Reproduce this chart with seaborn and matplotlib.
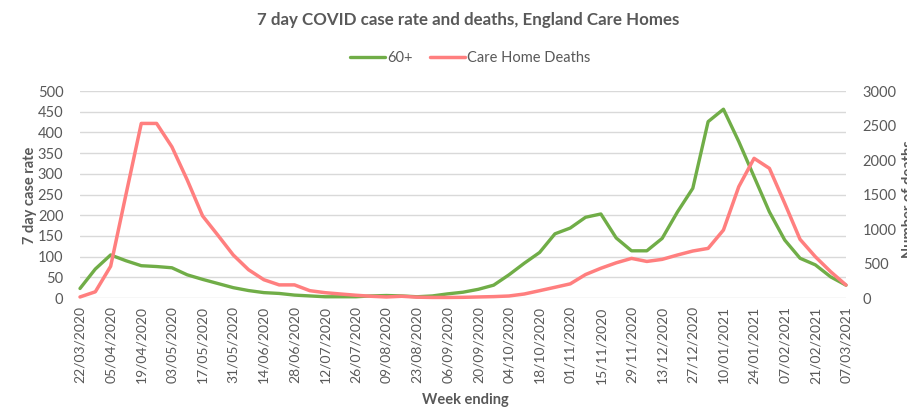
import matplotlib
matplotlib.use("Agg")
import matplotlib.pyplot as plt
import seaborn as sns
import pandas as pd
import numpy as np

# ---- data ----
week_index = list(range(51))
tick_labels = ["22/03/2020", "05/04/2020", "19/04/2020", "03/05/2020", "17/05/2020",
               "31/05/2020", "14/06/2020", "28/06/2020", "12/07/2020", "26/07/2020",
               "09/08/2020", "23/08/2020", "06/09/2020", "20/09/2020", "04/10/2020",
               "18/10/2020", "01/11/2020", "15/11/2020", "29/11/2020", "13/12/2020",
               "27/12/2020", "10/01/2021", "24/01/2021", "07/02/2021", "21/02/2021",
               "07/03/2021"]
case_rate_60 = [23, 70, 104, 90, 78, 76, 73, 56, 45, 35, 25, 18, 13, 11, 7, 5, 3, 3, 3, 5,
                6, 5, 3, 5, 10, 14, 21, 31, 56, 84, 110, 155, 169, 195, 203, 145, 114, 114,
                144, 208, 265, 426, 456, 378, 293, 208, 140, 96, 80, 51, 31]
care_home_deaths = [15, 90, 460, 1500, 2530, 2530, 2190, 1710, 1190, 910, 624, 410, 265,
                    190, 190, 106, 77, 58, 40, 25, 15, 25, 12, 8, 8, 10, 15, 20, 29, 58,
                    106, 155, 205, 340, 431, 510, 574, 530, 560, 623, 681, 719, 985, 1613,
                    2024, 1879, 1372, 850, 598, 381, 188]

GREEN = "#70AD47"
RED = "#FF7F7F"
GREY = "#595959"
GRID = "#D9D9D9"

sns.set_theme(style="white")
plt.rcParams["font.family"] = ["Lato", "DejaVu Sans"]

df_cases = pd.DataFrame({"week": week_index, "rate": case_rate_60})
df_deaths = pd.DataFrame({"week": week_index, "deaths": care_home_deaths})

fig = plt.figure(figsize=(9.07, 4.09), dpi=100)
ax = fig.add_axes([80 / 907, 1 - 298 / 409, (846 - 80) / 907, (298 - 91) / 409])
ax2 = ax.twinx()

sns.lineplot(data=df_cases, x="week", y="rate", ax=ax, color=GREEN, linewidth=2.4,
             label="60+", legend=False, clip_on=False, solid_capstyle="round",
             solid_joinstyle="round", zorder=3)
sns.lineplot(data=df_deaths, x="week", y="deaths", ax=ax2, color=RED, linewidth=2.5,
             label="Care Home Deaths", legend=False, clip_on=False, solid_capstyle="round",
             solid_joinstyle="round", zorder=3)

ax.set_xlim(0, 50)
ax.set_ylim(0, 500)
ax2.set_ylim(0, 3000)
ax.set_yticks(np.arange(0, 501, 50))
ax2.set_yticks(np.arange(0, 3001, 500))
ax.set_xticks(week_index[::2])
ax.set_xticklabels(tick_labels, rotation=90)

ax.grid(axis="y", color=GRID, linewidth=1.0)
ax.grid(axis="x", visible=False)
ax2.grid(False)
ax.set_axisbelow(True)
for a in (ax, ax2):
    for s in a.spines.values():
        s.set_visible(False)
    a.set_xlabel("")
    a.set_ylabel("")

ax.tick_params(axis="y", length=0, pad=12, labelsize=10.5, labelcolor=GREY)
ax2.tick_params(axis="y", length=0, pad=12, labelsize=10.5, labelcolor=GREY)
ax.tick_params(axis="x", length=0, pad=6, labelsize=10, labelcolor=GREY)

fig.text(468 / 907, 1 - 20 / 409, "7 day COVID case rate and deaths, England Care Homes",
         ha="center", va="center", fontsize=12.2, fontweight="bold", color=GREY)
fig.text(30 / 907, 1 - 195 / 409, "7 day case rate", ha="center", va="center",
         rotation=90, fontsize=10.5, fontweight="bold", color=GREY)
fig.text(465 / 907, 1 - 400 / 409, "Week ending", ha="center", va="center",
         fontsize=10.5, fontweight="bold", color=GREY)
fig.text(902 / 907, 1 - 199 / 409, "Number of deaths", ha="left", va="center",
         rotation=90, fontsize=10.5, fontweight="bold", color=GREY)

h1, l1 = ax.get_legend_handles_labels()
h2, l2 = ax2.get_legend_handles_labels()
leg = fig.legend(h1 + h2, l1 + l2, loc="center", bbox_to_anchor=(470 / 907, 1 - 58 / 409),
                 ncol=2, frameon=False, fontsize=10.5, handlelength=2.4,
                 handletextpad=0.15, columnspacing=1.2)
for t in leg.get_texts():
    t.set_color(GREY)

fig.savefig("out.png", dpi=100)
